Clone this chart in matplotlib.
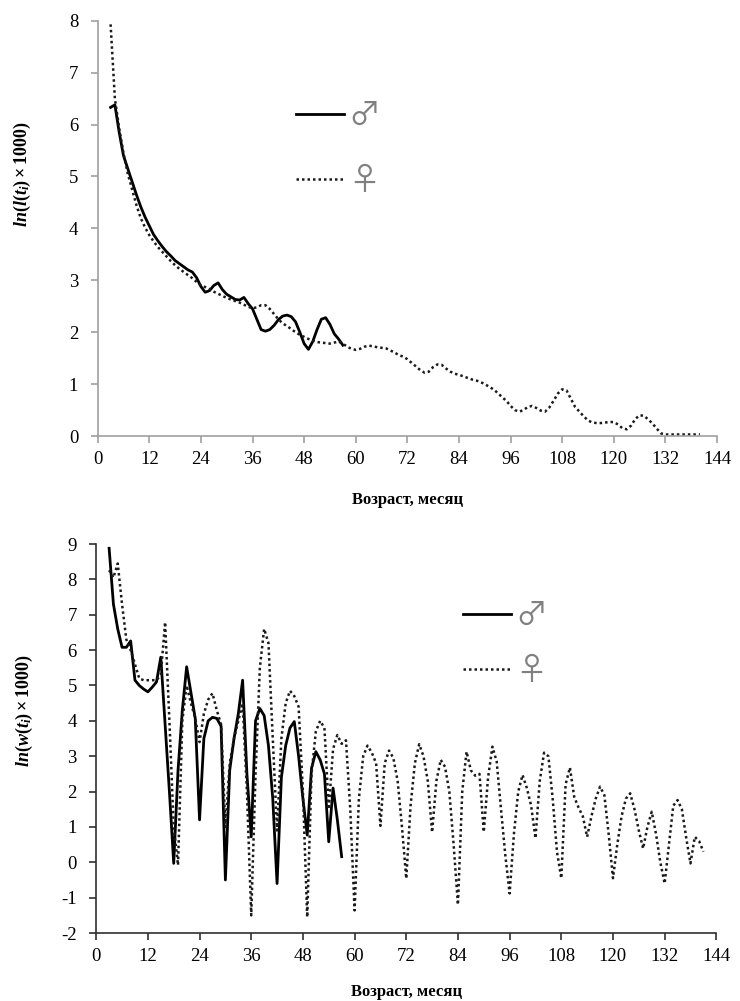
import matplotlib
matplotlib.use("Agg")
import matplotlib.pyplot as plt
import numpy as np

# survival curve ln(l(t_i)*1000)
months_m = list(range(3, 58))
l_male = [6.33, 6.38, 5.85, 5.40, 5.15, 4.90, 4.65, 4.42, 4.22, 4.05,
          3.88, 3.76, 3.65, 3.55, 3.47, 3.38, 3.32, 3.26, 3.20, 3.16,
          3.05, 2.88, 2.77, 2.80, 2.90, 2.95, 2.82, 2.73, 2.68, 2.63,
          2.62, 2.67, 2.55, 2.45, 2.25, 2.05, 2.02, 2.05, 2.13, 2.24,
          2.31, 2.33, 2.30, 2.20, 2.00, 1.78, 1.67, 1.82, 2.05, 2.25,
          2.28, 2.15, 1.97, 1.87, 1.75]

months_f = list(range(3, 141))
l_female = [7.93, 6.50, 5.93, 5.45, 5.05, 4.75, 4.45, 4.20, 4.02, 3.87,
            3.75, 3.64, 3.55, 3.46, 3.37, 3.29, 3.22, 3.16, 3.10, 3.04,
            2.97, 2.90, 2.87, 2.83, 2.78, 2.74, 2.70, 2.66, 2.63, 2.60,
            2.57, 2.53, 2.49, 2.46, 2.48, 2.52, 2.52, 2.45, 2.35, 2.25,
            2.17, 2.12, 2.06, 2.00, 1.95, 1.91, 1.87, 1.84, 1.81, 1.80,
            1.79, 1.78, 1.80, 1.82, 1.78, 1.72, 1.68, 1.66, 1.68, 1.72,
            1.74, 1.73, 1.71, 1.70, 1.69, 1.65, 1.61, 1.56, 1.53, 1.48,
            1.41, 1.34, 1.27, 1.22, 1.24, 1.33, 1.38, 1.37, 1.30, 1.24,
            1.20, 1.18, 1.15, 1.12, 1.09, 1.07, 1.04, 1.00, 0.95, 0.90,
            0.83, 0.75, 0.68, 0.58, 0.50, 0.47, 0.50, 0.56, 0.58, 0.54,
            0.49, 0.47, 0.55, 0.68, 0.82, 0.90, 0.88, 0.72, 0.56, 0.47,
            0.38, 0.30, 0.26, 0.25, 0.25, 0.26, 0.27, 0.27, 0.22, 0.15,
            0.13, 0.20, 0.33, 0.40, 0.39, 0.32, 0.24, 0.14, 0.05, 0.03,
            0.03, 0.03, 0.03, 0.03, 0.03, 0.03, 0.03, 0.03]

# ln(w(t_i)*1000)
months_wm = list(range(3, 58))
w_male = [8.88, 7.30, 6.60, 6.08, 6.08, 6.26, 5.15, 5.00, 4.90, 4.82,
          4.95, 5.10, 5.80, 3.90, 2.00, -0.03, 2.60, 4.30, 5.53, 4.80,
          4.07, 1.20, 3.50, 4.00, 4.10, 4.07, 3.85, -0.50, 2.60, 3.50,
          4.20, 5.15, 2.50, 0.72, 4.00, 4.35, 4.15, 3.30, 1.80, -0.60,
          2.40, 3.30, 3.80, 3.98, 3.00, 1.80, 0.77, 2.66, 3.13, 2.90,
          2.50, 0.58, 2.10, 1.20, 0.16]

months_wf = list(range(3, 142))
w_female = [8.26, 8.05, 8.45, 7.30, 6.30, 6.00, 5.60, 5.20, 5.15, 5.15,
            5.15, 5.15, 5.30, 6.79, 4.00, 1.00, -0.08, 4.00, 5.00, 4.50,
            4.07, 3.40, 4.20, 4.60, 4.78, 4.30, 3.90, 1.00, 2.80, 3.50,
            4.00, 4.50, 2.00, -1.50, 2.50, 5.50, 6.60, 6.20, 3.50, 0.90,
            3.50, 4.50, 4.85, 4.70, 4.40, 2.00, -1.55, 2.50, 3.70, 4.00,
            3.80, 1.50, 3.20, 3.60, 3.35, 3.45, 1.50, -1.36, 1.80, 3.00,
            3.30, 3.10, 2.80, 1.03, 2.80, 3.16, 2.95, 2.30, 1.00, -0.46,
            1.60, 2.80, 3.34, 3.00, 2.30, 0.85, 2.30, 2.90, 2.70, 2.00,
            0.50, -1.20, 2.00, 3.13, 2.60, 2.45, 2.50, 0.86, 2.40, 3.27,
            2.85, 1.50, 0.20, -0.88, 0.80, 2.00, 2.47, 2.10, 1.60, 0.68,
            2.30, 3.10, 3.00, 1.80, 0.30, -0.45, 2.20, 2.68, 1.85, 1.55,
            1.30, 0.72, 1.30, 1.80, 2.14, 1.90, 0.80, -0.45, 0.50, 1.30,
            1.80, 1.95, 1.50, 0.90, 0.39, 1.00, 1.43, 0.80, 0.00, -0.60,
            0.50, 1.60, 1.76, 1.50, 0.70, -0.03, 0.72, 0.60, 0.30]

x_ticks = list(range(0, 145, 12))

plt.rcParams['font.family'] = ['Liberation Serif', 'DejaVu Serif']
plt.rcParams['axes.unicode_minus'] = False
plt.rcParams['mathtext.fontset'] = 'custom'
plt.rcParams['mathtext.it'] = 'Liberation Serif:italic:bold'
plt.rcParams['mathtext.rm'] = 'Liberation Serif:bold'
plt.rcParams['mathtext.bf'] = 'Liberation Serif:bold'

fig = plt.figure(figsize=(7.4, 10.01), dpi=100)
ax1 = fig.add_axes([0.132, 0.5644, 0.837, 0.4149])
ax2 = fig.add_axes([0.130, 0.0679, 0.838, 0.3886])

dot_style = dict(color='#1a1a1a', lw=1.8, linestyle=(0, (1.0, 1.2)), dash_capstyle='butt')
solid_style = dict(color='black', lw=2.0, solid_joinstyle='round')
legend_font = {'family': ['Noto Sans CJK JP', 'DejaVu Sans'], 'size': 23}


def style_axes(ax, spine_color, ylim, yticks):
    for s in ['top', 'right']:
        ax.spines[s].set_visible(False)
    for s in ['left', 'bottom']:
        ax.spines[s].set_color(spine_color)
        ax.spines[s].set_linewidth(1.2)
    ax.set_xlim(0, 144)
    ax.set_ylim(*ylim)
    ax.set_xticks(x_ticks)
    ax.set_yticks(yticks)
    ax.tick_params(axis='both', direction='out', length=5, width=1.2,
                   color=spine_color, labelsize=13.5)
    ax.tick_params(axis='y', pad=9)
    ax.tick_params(axis='x', pad=6)
    ax.set_xlabel('Возраст, месяц', fontsize=12, fontweight='bold')


# top chart
ax1.plot(months_m, l_male, label='♂', **solid_style)
ax1.plot(months_f, l_female, label='♀', **dot_style)
style_axes(ax1, '#a0a0a0', (0, 8), range(0, 9))
ax1.set_ylabel(r'$ln(l(t_i)\times 1000)$', fontsize=13)
ax1.yaxis.set_label_coords(-0.105, 0.632)
ax1.xaxis.set_label_coords(0.5, -0.135)
leg1 = ax1.legend(loc='center left', bbox_to_anchor=(0.32, 0.692), frameon=False,
                  handlelength=1.5, handletextpad=0.15, labelspacing=1.05,
                  borderpad=0, borderaxespad=0, labelcolor='#808080',
                  prop=legend_font)

# bottom chart
ax2.plot(months_wm, w_male, label='♂', **solid_style)
ax2.plot(months_wf, w_female, label='♀', **dot_style)
style_axes(ax2, '#303030', (-2, 9), range(-2, 10))
ax2.set_ylabel(r'$ln(w(t_i)\times 1000)$', fontsize=13)
ax2.yaxis.set_label_coords(-0.098, 0.573)
ax2.xaxis.set_label_coords(0.5, -0.13)
leg2 = ax2.legend(loc='center left', bbox_to_anchor=(0.591, 0.745), frameon=False,
                  handlelength=1.5, handletextpad=0.15, labelspacing=0.72,
                  borderpad=0, borderaxespad=0, labelcolor='#808080',
                  prop=legend_font)

fig.savefig('out.png', dpi=100)
